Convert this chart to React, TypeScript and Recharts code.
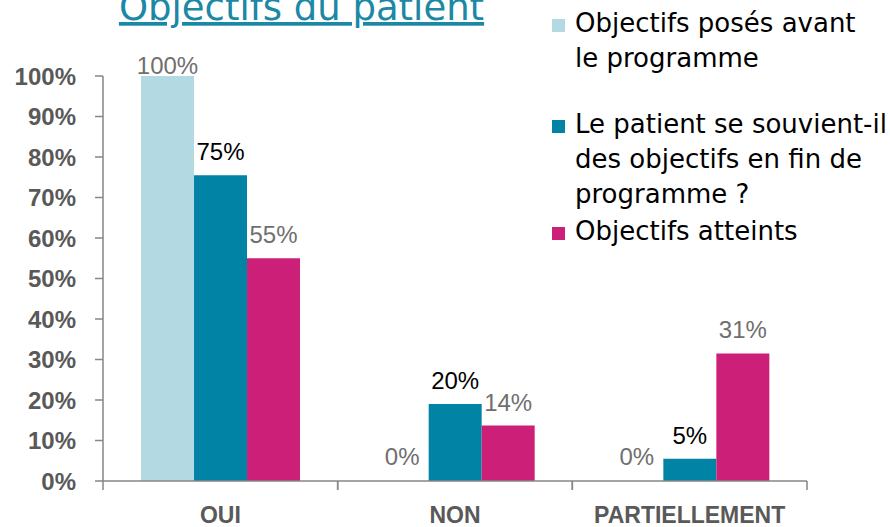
import { BarChart, Bar, XAxis, YAxis, Legend, LabelList, Rectangle } from 'recharts';

const categories = ['OUI', 'NON', 'PARTIELLEMENT'];
const posesValues = [100, 0, 0];
const souvientValues = [75.5, 19, 5.5];
const atteintsValues = [55, 13.7, 31.5];
const posesLabels = ['100%', '0%', '0%'];
const souvientLabels = ['75%', '20%', '5%'];
const atteintsLabels = ['55%', '14%', '31%'];
const yTicks = [0, 10, 20, 30, 40, 50, 60, 70, 80, 90, 100];

const seriesNames = [
  'Objectifs posés avant\nle programme',
  'Le patient se souvient-il\ndes objectifs en fin de\nprogramme ?',
  'Objectifs atteints',
];

const data = categories.map((category, i) => ({
  category,
  poses: posesValues[i],
  souvient: souvientValues[i],
  atteints: atteintsValues[i],
  posesLabel: posesLabels[i],
  souvientLabel: souvientLabels[i],
  atteintsLabel: atteintsLabels[i],
}));

const AXIS = '#868686';
const TICK_TEXT = '#595959';
const LABEL_GRAY = '#6f6f6f';

const series = [
  { key: 'poses', name: seriesNames[0], color: '#b3dae2', labelColor: LABEL_GRAY },
  { key: 'souvient', name: seriesNames[1], color: '#0083a4', labelColor: '#000000' },
  { key: 'atteints', name: seriesNames[2], color: '#cc1f77', labelColor: LABEL_GRAY },
];

// gaps under each legend entry
const legendGaps = [31, 2, 0];

const PLOT_TOP = 76;
const BAND = 704 / 3;

const makeLabel = (color: string) => (props: any) => {
  const { x, y, width, value } = props;
  const baseline = Math.max(Number(y) - 15, PLOT_TOP - 2);
  return (
    <text
      x={Number(x) + Number(width) / 2}
      y={baseline}
      textAnchor="middle"
      fill={color}
      fontFamily="Liberation Sans, Arial, sans-serif"
      fontSize={24}
    >
      {value}
    </text>
  );
};

// zero values keep a hairline slot so their label still shows, but draw no rect
const BarShape = (props: any) => {
  if (Number(props.value) === 0 || (Array.isArray(props.value) && props.value[1] === 0)) return <g />;
  return <Rectangle {...props} />;
};

const CategoryTick = (props: any) => {
  const { x, y, payload } = props;
  const half = BAND / 2;
  return (
    <g>
      <line x1={x - half} x2={x - half} y1={y} y2={y + 9} stroke={AXIS} strokeWidth={1.5} />
      <line x1={x + half} x2={x + half} y1={y} y2={y + 9} stroke={AXIS} strokeWidth={1.5} />
      <text
        x={x}
        y={y + 42}
        textAnchor="middle"
        fill={TICK_TEXT}
        fontFamily="Liberation Sans, Arial, sans-serif"
        fontWeight="bold"
        fontSize={23}
      >
        {payload.value}
      </text>
    </g>
  );
};

const renderLegend = () => (
  <div style={{ fontFamily: 'DejaVu Sans, sans-serif', fontSize: 26, lineHeight: '35px', color: '#000' }}>
    {series.map((s, i) => (
      <div key={s.key} style={{ display: 'flex', marginBottom: legendGaps[i] }}>
        <span
          style={{
            width: 13,
            height: 13,
            background: s.color,
            marginTop: 13,
            marginRight: 10,
            flex: 'none',
          }}
        />
        <span style={{ whiteSpace: 'pre' }}>{s.name}</span>
      </div>
    ))}
  </div>
);

export default function App() {
  return (
    <div style={{ position: 'absolute', left: 0, top: 0, width: 890, height: 527, background: '#fff' }}>
      <BarChart
        width={890}
        height={527}
        data={data}
        margin={{ top: PLOT_TOP, right: 83, bottom: 0, left: 0 }}
        barCategoryGap="16.2%"
        barGap={0}
      >
        <XAxis
          dataKey="category"
          height={46}
          axisLine={{ stroke: AXIS, strokeWidth: 1.5 }}
          tickLine={false}
          tickSize={0}
          tickMargin={0}
          tick={<CategoryTick />}
          interval={0}
        />
        <YAxis
          width={103}
          domain={[0, 100]}
          ticks={yTicks}
          tickFormatter={(v: number) => `${v}%`}
          axisLine={{ stroke: AXIS, strokeWidth: 1.5 }}
          tickLine={{ stroke: AXIS, strokeWidth: 1.5 }}
          tickSize={8}
          tickMargin={19}
          tick={{
            fill: TICK_TEXT,
            fontFamily: 'Liberation Sans, Arial, sans-serif',
            fontWeight: 'bold',
            fontSize: 24,
          }}
        />
        <Legend
          layout="vertical"
          align="center"
          verticalAlign="middle"
          content={renderLegend}
          wrapperStyle={{ position: 'absolute', left: 552, top: 5.5, width: 338, height: 'auto' }}
        />
        {series.map((s) => (
          <Bar
            key={s.key}
            dataKey={s.key}
            name={s.name}
            fill={s.color}
            minPointSize={1}
            shape={BarShape}
            isAnimationActive={false}
          >
            <LabelList dataKey={`${s.key}Label`} content={makeLabel(s.labelColor)} />
          </Bar>
        ))}
      </BarChart>
      <svg width={890} height={60} style={{ position: 'absolute', left: 0, top: 0, pointerEvents: 'none' }}>
        <text
          x={301.5}
          y={20}
          textAnchor="middle"
          fill="#1b88a6"
          fontFamily="DejaVu Sans, sans-serif"
          fontSize={37}
          style={{ textDecoration: 'underline' }}
        >
          Objectifs du patient
        </text>
      </svg>
    </div>
  );
}
